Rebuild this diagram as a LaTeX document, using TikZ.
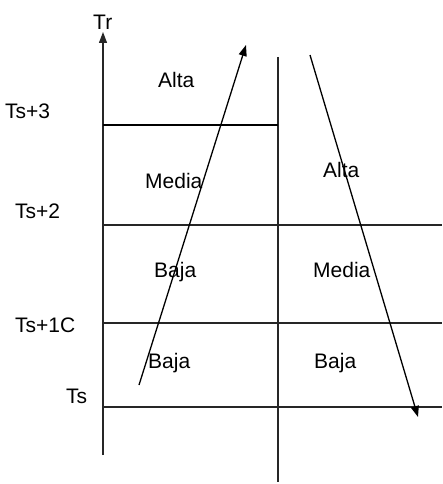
\documentclass[tikz,border=0pt]{standalone}
\usepackage{fontspec}
\setmainfont{Liberation Sans}
\usetikzlibrary{arrows.meta}
\begin{document}
\begin{tikzpicture}[x=1pt,y=-1pt,
  lab/.style={anchor=base west,inner sep=0pt,font=\fontsize{21}{21}\selectfont},
  grid/.style={line width=1.3pt,draw=black!85},
  thick line/.style={line width=2.6pt,draw=black},
  arr/.style={line width=1.3pt,-{Triangle[length=11pt,width=8pt]}}]
\useasboundingbox (0,0) rectangle (442,484);
% coordinates
\coordinate (axB) at (103,455);
\coordinate (axT) at (103,32);
\coordinate (midT) at (278,57);
\coordinate (midB) at (278,482);
\coordinate (h3L) at (103,125);
\coordinate (h3R) at (278,125);
\coordinate (h2L) at (103,225);
\coordinate (h2R) at (442,225);
\coordinate (h1L) at (103,323);
\coordinate (h1R) at (442,323);
\coordinate (h0L) at (103,407);
\coordinate (h0R) at (442,407);
\coordinate (a1s) at (139,385);
\coordinate (a1e) at (246,45);
\coordinate (a2s) at (310,55);
\coordinate (a2e) at (418,417);
% lines
\draw[grid,-{Triangle[length=11pt,width=8pt]}] (axB) -- (axT);
\draw[grid] (midT) -- (midB);
\draw[thick line] (h3L) -- (h3R);
\draw[grid] (h2L) -- (h2R);
\draw[grid] (h1L) -- (h1R);
\draw[grid] (h0L) -- (h0R);
% labels
\node[lab] (tr) at (93,30) {Tr};
\node[lab] (ts3) at (5,118) {Ts+3};
\node[lab] (ts2) at (15,218) {Ts+2};
\node[lab] (ts1) at (15,332) {Ts+1C};
\node[lab] (ts) at (66,403) {Ts};
\node[lab] (altaL) at (158,88) {Alta};
\node[lab] (mediaL) at (145,188) {Media};
\node[lab] (bajaL1) at (154,277) {Baja};
\node[lab] (bajaL0) at (148,368) {Baja};
\node[lab] (altaR) at (323,177) {Alta};
\node[lab] (mediaR) at (313,277) {Media};
\node[lab] (bajaR) at (314,368) {Baja};
% arrows
\draw[arr] (a1s) -- (a1e);
\draw[arr] (a2s) -- (a2e);
\end{tikzpicture}
\end{document}
